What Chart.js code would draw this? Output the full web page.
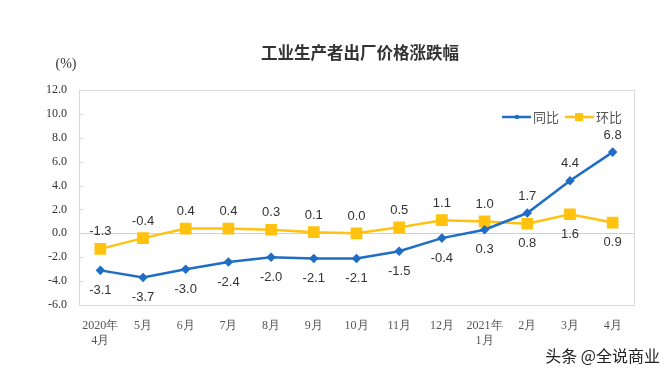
<!DOCTYPE html>
<html>
<head>
<meta charset="utf-8">
<script src="https://cdn.jsdelivr.net/npm/chart.js@4"></script>
<style>
  html, body { margin: 0; padding: 0; background: #fff; }
  #wrap { width: 671px; height: 377px; }
</style>
</head>
<body>
<div id="wrap"><canvas id="c"></canvas></div>
<script>
const months = [["2020年", "4月"], "5月", "6月", "7月", "8月", "9月", "10月", "11月", "12月", ["2021年", "1月"], "2月", "3月", "4月"];
const yoy = [-3.1, -3.7, -3.0, -2.4, -2.0, -2.1, -2.1, -1.5, -0.4, 0.3, 1.7, 4.4, 6.8];
const mom = [-1.3, -0.4, 0.4, 0.4, 0.3, 0.1, 0.0, 0.5, 1.1, 1.0, 0.8, 1.6, 0.9];
const seriesNames = ["同比", "环比"];
const yTicks = { min: -6, max: 12, step: 2 };

const BLUE = "#1f6dc4";
const YELLOW = "#ffc20e";

// ─── Extras: frame, title, legend, value labels, watermark ──────────────────
const extras = {
  id: "extras",
  beforeDatasetsDraw(chart) {
    const { ctx, chartArea: a } = chart;
    ctx.save();
    ctx.strokeStyle = "#d9d9d9";
    ctx.lineWidth = 1;
    ctx.strokeRect(a.left + 0.5, a.top + 0.5, a.right - a.left, a.bottom - a.top);
    // little inner ticks on the y axis
    const y = chart.scales.y;
    for (let v = yTicks.min; v <= yTicks.max; v += yTicks.step) {
      const py = Math.round(y.getPixelForValue(v)) + 0.5;
      ctx.beginPath();
      ctx.moveTo(a.left, py);
      ctx.lineTo(a.left + 4, py);
      ctx.stroke();
    }
    ctx.restore();
  },
  afterDatasetsDraw(chart) {
    const { ctx } = chart;
    ctx.save();

    // title + unit
    ctx.fillStyle = "#333";
    ctx.textAlign = "center";
    ctx.textBaseline = "middle";
    ctx.font = "bold 16.5px 'Noto Sans CJK SC'";
    ctx.fillText("工业生产者出厂价格涨跌幅", 360, 53);
    ctx.font = "14px 'Liberation Serif'";
    ctx.fillText("(%)", 66, 64);

    // legend
    const legendY = 117;
    const items = [
      { x: 502, color: BLUE, label: seriesNames[0], square: false },
      { x: 565, color: YELLOW, label: seriesNames[1], square: true },
    ];
    ctx.font = "13px 'Noto Sans CJK SC'";
    ctx.textAlign = "left";
    items.forEach(it => {
      ctx.strokeStyle = it.color;
      ctx.fillStyle = it.color;
      ctx.lineWidth = 2.5;
      ctx.beginPath();
      ctx.moveTo(it.x, legendY);
      ctx.lineTo(it.x + 29, legendY);
      ctx.stroke();
      if (it.square) ctx.fillRect(it.x + 10, legendY - 4, 8, 8);
      else { ctx.beginPath(); ctx.arc(it.x + 15, legendY, 2.2, 0, Math.PI * 2); ctx.fill(); }
      ctx.fillStyle = "#555";
      ctx.fillText(it.label, it.x + 31, legendY);
    });

    // value labels: higher series above, lower series below
    ctx.font = "13px 'Liberation Sans'";
    ctx.fillStyle = "#333";
    ctx.textAlign = "center";
    const m0 = chart.getDatasetMeta(0).data;
    const m1 = chart.getDatasetMeta(1).data;
    yoy.forEach((v, i) => {
      const other = mom[i];
      const pairs = [[v, m0[i], v >= other], [other, m1[i], other > v]];
      pairs.forEach(([val, pt, above]) => {
        const ty = above ? pt.y - 17 : pt.y + 20;
        ctx.fillText(val.toFixed(1), pt.x, ty);
      });
    });

    // watermark
    ctx.font = "16px 'Noto Sans CJK SC'";
    ctx.textAlign = "right";
    ctx.fillStyle = "#222";
    ctx.fillText("头条 @全说商业", 660, 356);
    ctx.restore();
  },
};

new Chart(document.getElementById("c"), {
  type: "line",
  data: {
    labels: months,
    datasets: [
      {
        label: seriesNames[0],
        data: yoy,
        borderColor: BLUE,
        backgroundColor: BLUE,
        borderWidth: 2.5,
        pointStyle: "rectRot",
        pointRadius: 3,
        tension: 0,
      },
      {
        label: seriesNames[1],
        data: mom,
        borderColor: YELLOW,
        backgroundColor: YELLOW,
        borderWidth: 2.5,
        pointStyle: "rect",
        pointRadius: 6.5,
        tension: 0,
      },
    ],
  },
  options: {
    responsive: true,
    maintainAspectRatio: false,
    animation: false,
    layout: { padding: { top: 90, right: 37, bottom: 30, left: 0 } },
    plugins: { legend: { display: false }, tooltip: { enabled: false } },
    scales: {
      x: {
        offset: true,
        grid: { display: false },
        border: { display: false },
        ticks: { color: "#555", font: { family: "Liberation Serif", size: 12 }, maxRotation: 0, autoSkip: false, padding: 6 },
        afterFit: s => { s.height = 42; },
      },
      y: {
        min: yTicks.min,
        max: yTicks.max,
        border: { display: false },
        grid: {
          drawTicks: false,
          color: c => (c.tick.value === 0 ? "#d0d0d0" : "transparent"),
        },
        ticks: {
          stepSize: yTicks.step,
          color: "#333",
          padding: 12,
          font: { family: "Liberation Serif", size: 12 },
          callback: v => v.toFixed(1),
        },
        afterFit: s => { s.width = 79; },
      },
    },
  },
  plugins: [extras],
});
</script>
</body>
</html>
